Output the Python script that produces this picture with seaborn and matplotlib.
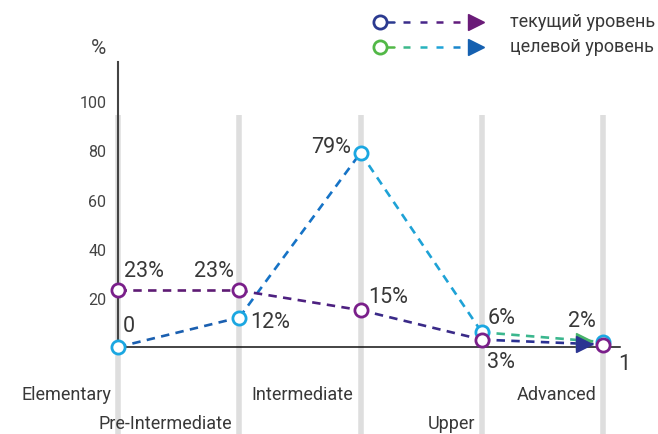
import numpy as np
import pandas as pd
import matplotlib
matplotlib.use("Agg")
import matplotlib.pyplot as plt
import seaborn as sns

# ---- data ----
levels = ["Elementary", "Pre-Intermediate", "Intermediate", "Upper", "Advanced"]
current = [23, 23, 15, 3, 1]
target = [0, 12, 79, 6, 2]
current_labels = ["23%", "23%", "15%", "3%", "1"]
target_labels = ["0", "12%", "79%", "6%", "2%"]
yticks = [20, 40, 60, 80, 100]
legend_names = ["текущий уровень", "целевой уровень"]

sns.set_theme(style="white")
plt.rcParams["font.family"] = ["Roboto", "DejaVu Sans"]

W, H = 658, 435
fig = plt.figure(figsize=(W / 100, H / 100), dpi=100)
ax = fig.add_axes([118 / W, 87 / H, (620 - 118) / W, 285 / H])
ax.set_xlim(0, 4.14)
ax.set_ylim(0, 116)
ax.patch.set_alpha(0)

TXT = "#383838"
n = len(levels)
xs = np.arange(n)

# grey vertical bands
ax.vlines(xs, -35.4, 94.5, color="#dedede", lw=4, clip_on=False, zorder=0)

# spines
for s in ["top", "right"]:
    ax.spines[s].set_visible(False)
ax.spines["left"].set_color("#444444")
ax.spines["left"].set_linewidth(1.5)
ax.spines["left"].set_zorder(1)
ax.spines["bottom"].set_color("#111111")
ax.spines["bottom"].set_linewidth(1.1)

ax.set_xticks([])
ax.set_yticks(yticks)
ax.set_yticklabels([str(v) for v in yticks], color="#444444", fontsize=11.5)
ax.tick_params(axis="y", length=0, pad=8.5)
fig.text(98 / W, 1 - 48 / H, "%", ha="center", va="center", fontsize=15, color="#444444")

df = pd.DataFrame({"x": xs, "current": current, "target": target})

cur_cols = ["#5e1b74", "#4d2080", "#3a2a88", "#2b3192"]
tgt_cols = ["#1a5fb0", "#1673c6", "#1ea2d6", "#3bb78e"]
dash = (0, (3.2, 2.4))
for i in range(n - 1):
    seg = df.iloc[i:i + 2]
    sns.lineplot(data=seg, x="x", y="target", ax=ax, color=tgt_cols[i], lw=1.9,
                 linestyle=dash, clip_on=False, zorder=3, legend=False)
    sns.lineplot(data=seg, x="x", y="current", ax=ax, color=cur_cols[i], lw=1.9,
                 linestyle=dash, clip_on=False, zorder=4, legend=False)

# arrow heads near the end of each line
f = 0.9
for vals, col, z in [(target, "#47b36a", 5), (current, "#2b3592", 6)]:
    ax_x = (n - 2) + f
    ax_y = vals[-2] + (vals[-1] - vals[-2]) * f
    ax.plot([ax_x - 0.06], [ax_y], marker=">", ms=11, color=col, clip_on=False, zorder=z, lw=0)

# markers
sns.scatterplot(data=df, x="x", y="target", ax=ax, s=90, facecolor="white",
                edgecolor="#1ba7e1", linewidth=2.0, clip_on=False, zorder=7, legend=False)
sns.scatterplot(data=df, x="x", y="current", ax=ax, s=90, facecolor="white",
                edgecolor="#7a1f8a", linewidth=2.0, clip_on=False, zorder=8, legend=False)
ax.set_xlabel("")
ax.set_ylabel("")

# value labels (offsets in pixels)
lab_kw = dict(textcoords="offset pixels", fontsize=15.5, color=TXT, va="center")
cur_off = [(6, 20, "left"), (-5, 20, "right"), (8, 14, "left"), (5, -22, "left"), (15, -19, "left")]
tgt_off = [(5, 21, "left"), (11, -4, "left"), (-10, 6, "right"), (6, 15, "left"), (-7, 22, "right")]
for i in range(n):
    dx, dy, ha = cur_off[i]
    ax.annotate(current_labels[i], (xs[i], current[i]), xytext=(dx, dy), ha=ha, **lab_kw)
    dx, dy, ha = tgt_off[i]
    ax.annotate(target_labels[i], (xs[i], target[i]), xytext=(dx, dy), ha=ha, **lab_kw)

# category labels, staggered
for i, name in enumerate(levels):
    dy = -47 if i % 2 == 0 else -76
    ax.annotate(name, (xs[i], 0), xytext=(-7, dy), textcoords="offset pixels",
                ha="right", va="center", fontsize=13, color=TXT,
                annotation_clip=False)

# legend (drawn manually in pixel coordinates)
lax = fig.add_axes([0, 0, 1, 1])
lax.set_xlim(0, W)
lax.set_ylim(H, 0)
lax.axis("off")
lax.patch.set_alpha(0)
rows = [
    (23, "#2b3a90", ["#3a2d8a", "#47268a", "#561f82", "#621b7c"], "#6a1b78", legend_names[0]),
    (48, "#52b847", ["#3cb88a", "#27b2bd", "#1ea3d8", "#1a86cc"], "#1560b0", legend_names[1]),
]
for y, ccol, dcols, acol, name in rows:
    lax.plot([386, 394], [y, y], color=ccol, lw=1.8)
    for k, c in enumerate(dcols):
        x0 = 403 + k * 16.7
        lax.plot([x0, x0 + 7], [y, y], color=c, lw=1.8, solid_capstyle="butt")
    lax.plot([476], [y], marker=">", ms=11, color=acol, lw=0)
    lax.plot([380], [y], marker="o", ms=9.5, mfc="white", mec=ccol, mew=2.0, lw=0)
    lax.text(510, y - 1, name, ha="left", va="center", fontsize=13, color=TXT)

fig.savefig("out.png", dpi=100)
